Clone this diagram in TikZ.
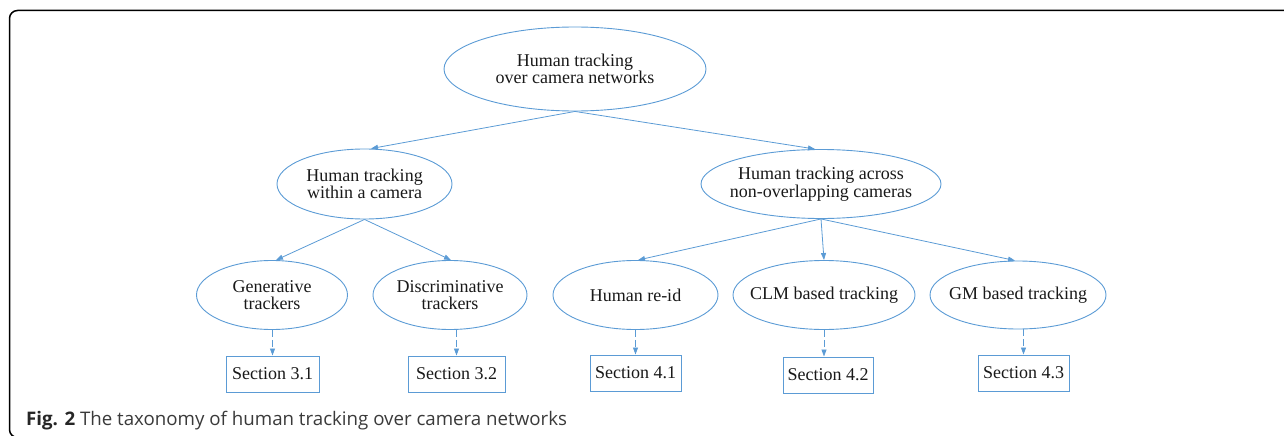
\documentclass[tikz,border=0pt]{standalone}
\usepackage{fontspec}
\setmainfont{Liberation Serif}
\newfontfamily\capfont{Open Sans}
\usetikzlibrary{shapes.geometric,arrows.meta}
\definecolor{lineblue}{HTML}{5B9BD5}
\definecolor{captxt}{HTML}{3A3A3A}
\begin{document}
\begin{tikzpicture}[x=1pt,y=-1pt,
  ell/.style={ellipse,draw=lineblue,line width=0.9pt,inner sep=0pt},
  lbl/.style={inner sep=0pt,align=center,font=\fontsize{18}{17.6}\selectfont,text=black!90},
  secbox/.style={rectangle,draw=lineblue,line width=1pt,inner sep=0pt,minimum height=36pt,font=\fontsize{18}{18}\selectfont,text=black!90},
  conn/.style={draw=lineblue,line width=0.8pt,-{Triangle[length=7pt,width=5pt]}},
  dconn/.style={conn,dash pattern=on 7pt off 3pt}]
\useasboundingbox (0,0) rectangle (1284,436);
% frame
\draw[line width=1.5pt,rounded corners=8pt] (1300,10.5) -- (9.5,10.5) -- (9.5,437.5) -- (40,437.5);
% ellipses
\node[ell,minimum width=262pt,minimum height=84pt] (root) at (575,69) {};
\node[ell,minimum width=175pt,minimum height=70pt] (within) at (364.5,184) {};
\node[ell,minimum width=240pt,minimum height=69pt] (across) at (821,184) {};
\node[ell,minimum width=151pt,minimum height=69pt] (gen) at (272,295) {};
\node[ell,minimum width=154pt,minimum height=69pt] (disc) at (450,295) {};
\node[ell,minimum width=165pt,minimum height=69pt] (reid) at (635.5,295) {};
\node[ell,minimum width=182pt,minimum height=69pt] (clm) at (824,295) {};
\node[ell,minimum width=176pt,minimum height=68pt] (gm) at (1018,295) {};
% labels
\node[lbl] (root-t) at (root) {Human tracking\\over camera networks};
\node[lbl] (within-t) at (within) {Human tracking\\within a camera};
\node[lbl] (across-t) at (across) {Human tracking across\\non-overlapping cameras};
\node[lbl] (gen-t) at (gen) {Generative\\trackers};
\node[lbl] (disc-t) at (disc) {Discriminative\\trackers};
\node[lbl] (reid-t) at (reid) {Human re-id};
\node[lbl] (clm-t) at (clm) {CLM based tracking};
\node[lbl] (gm-t) at (gm) {GM based tracking};
% section boxes
\node[secbox,minimum width=93pt] (s31) at (272.5,374) {Section 3.1};
\node[secbox,minimum width=97pt] (s32) at (456.5,374) {Section 3.2};
\node[secbox,minimum width=91pt] (s41) at (635.5,373) {Section 4.1};
\node[secbox,minimum width=90pt] (s42) at (828,375) {Section 4.2};
\node[secbox,minimum width=91pt] (s43) at (1023.5,373) {Section 4.3};
% connectors
\draw[conn] (root.south) -- ([xshift=6.5pt]within.north);
\draw[conn] (root.south) -- ([xshift=-6pt]across.north);
\draw[conn] (within.south) -- ([xshift=4pt]gen.north);
\draw[conn] (within.south) -- ([xshift=1pt]disc.north);
\draw[conn] (across.south) -- ([xshift=2.5pt]reid.north);
\draw[conn] (across.south) -- (clm.north);
\draw[conn] (across.south) -- ([xshift=-3pt]gm.north);
\draw[dconn] (gen.south -| s31.north) -- (s31.north);
\draw[dconn] (disc.south -| s32.north) -- (s32.north);
\draw[dconn] (reid.south -| s41.north) -- (s41.north);
\draw[dconn] (clm.south) -- (clm.south |- s42.north);
\draw[dconn] (gm.south -| s43.north) -- (s43.north);
% caption
\node[anchor=base west,inner sep=0pt,font=\capfont\fontsize{18.7}{22}\selectfont,text=captxt] (cap) at (26,425.5) {{\bfseries\color{black!85}Fig. 2} The taxonomy of human tracking over camera networks};
\end{tikzpicture}
\end{document}
